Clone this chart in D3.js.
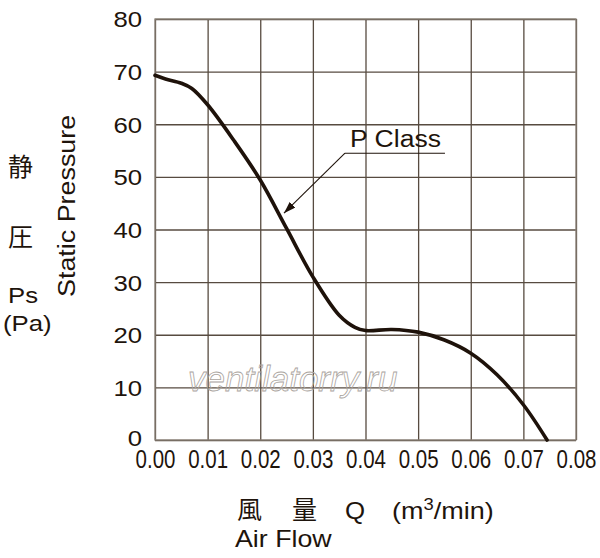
<!DOCTYPE html>
<html>
<head>
<meta charset="utf-8">
<script src="https://cdn.jsdelivr.net/npm/d3@7"></script>
<style>
  body { margin: 0; background: #fff; }
  svg { display: block; }
  text { font-family: "Liberation Sans", Arial, Helvetica, sans-serif; fill: #1e140c; }
  .cjk { font-family: "Noto Sans CJK JP", "Noto Sans CJK SC", sans-serif; }
</style>
</head>
<body>
<div id="chart"></div>
<script>
// air flow (m3/min) and static pressure (Pa)
const flow     = [0, 0.002, 0.005, 0.007, 0.01, 0.015, 0.02, 0.025, 0.03, 0.035, 0.038, 0.04, 0.045, 0.05, 0.055, 0.06, 0.065, 0.07, 0.0745];
const pressure = [69.3, 68.6, 67.8, 66.8, 63.7, 56.9, 49.4, 40.2, 31, 23.7, 21.4, 20.8, 21.0, 20.5, 19.0, 16.5, 12.4, 6.7, 0];

const xTicks = [0, 0.01, 0.02, 0.03, 0.04, 0.05, 0.06, 0.07, 0.08];
const yTicks = [0, 10, 20, 30, 40, 50, 60, 70, 80];

// "P Class" callout: label corner and arrow tip, in data units
const calloutFrom = [0.0361, 54.5];
const calloutTo   = [0.0245, 43.1];
const calloutEnd  = 0.0551;

const W = 600, H = 558;
const margin = { left: 155, top: 19, right: 24, bottom: 118 };
const w = W - margin.left - margin.right;
const h = H - margin.top - margin.bottom;

const svg = d3.select("#chart").append("svg").attr("width", W).attr("height", H);
const g = svg.append("g").attr("transform", `translate(${margin.left},${margin.top})`);

const x = d3.scaleLinear().domain([0, 0.08]).range([0, w]);
const y = d3.scaleLinear().domain([0, 80]).range([h, 0]);

//grid + tick labels
const gx = g.append("g").attr("transform", `translate(0,${h})`)
  .call(d3.axisBottom(x).tickValues(xTicks).tickFormat(d3.format(".2f")).tickSize(-h).tickSizeOuter(0));
gx.select(".domain").remove();
gx.selectAll("line").attr("stroke", "#574b40").attr("stroke-width", 1.3);
gx.selectAll("text").attr("y", 28).attr("dy", null)
  .attr("transform", "scale(0.82,1)").style("font-size", "25px").attr("fill", "#1e140c");

const gy = g.append("g")
  .call(d3.axisLeft(y).tickValues(yTicks).tickSize(-w).tickSizeOuter(0));
gy.select(".domain").remove();
gy.selectAll("line").attr("stroke", "#574b40").attr("stroke-width", 1.3);
gy.selectAll("text").attr("x", -11.1).attr("dy", d => d === 0 ? "0.24em" : "0.36em")
  .attr("transform", "scale(1.17,1)").style("font-size", "22px").attr("fill", "#1e140c");

g.append("rect").attr("width", w).attr("height", h)
  .attr("fill", "none").attr("stroke", "#8a8279").attr("stroke-width", 1.3);

//watermark
g.append("text").attr("x", 33).attr("y", 372)
  .style("font-size", "35px").style("font-style", "italic")
  .style("fill", "none").attr("stroke", "#aaa49e").attr("stroke-width", 0.8)
  .text("ventilatorry.ru");

//curve
const pts = flow.map((q, i) => [q, pressure[i]]);
const line = d3.line().x(d => x(d[0])).y(d => y(d[1])).curve(d3.curveCatmullRom.alpha(0.5));
g.append("path").datum(pts).attr("d", line)
  .attr("fill", "none").attr("stroke", "#1e120a").attr("stroke-width", 3.6)
  .attr("stroke-linecap", "round");

//callout
svg.append("defs").append("marker").attr("id", "arr")
  .attr("viewBox", "0 0 12 8").attr("refX", 12).attr("refY", 4)
  .attr("markerWidth", 12).attr("markerHeight", 8)
  .attr("markerUnits", "userSpaceOnUse").attr("orient", "auto")
  .append("path").attr("d", "M0,0 L12,4 L0,8 Z").attr("fill", "#1e120a");

g.append("line")
  .attr("x1", x(calloutFrom[0])).attr("y1", y(calloutFrom[1]))
  .attr("x2", x(calloutTo[0])).attr("y2", y(calloutTo[1]))
  .attr("stroke", "#1e120a").attr("stroke-width", 1.1).attr("marker-end", "url(#arr)");
g.append("line")
  .attr("x1", x(calloutFrom[0])).attr("y1", y(calloutFrom[1]))
  .attr("x2", x(calloutEnd)).attr("y2", y(calloutFrom[1]))
  .attr("stroke", "#1e120a").attr("stroke-width", 1.1);

function label(sel, txt, px, py, size, sx, cls) {
  return sel.append("text").attr("class", cls || null)
    .attr("transform", `translate(${px},${py}) scale(${sx},1)`)
    .style("font-size", size + "px").text(txt);
}

label(svg, "P Class", x(calloutFrom[0]) + margin.left + 5, 147, 23.5, 1.13);

//y axis titles
label(svg, "静", 8, 176, 25, 1, "cjk");
label(svg, "圧", 8, 246, 25, 1, "cjk");
label(svg, "Ps", 8, 303, 23, 1.12);
label(svg, "(Pa)", 3, 331, 23, 1.12);
svg.append("text")
  .attr("transform", "translate(75,297) rotate(-90) scale(1.12,1)")
  .style("font-size", "24px").text("Static Pressure");

//x axis titles
label(svg, "風", 237, 519, 25, 1, "cjk");
label(svg, "量", 292, 519, 25, 1, "cjk");
label(svg, "Q", 345, 519, 23.5, 1.1);
const unit = label(svg, "(m", 392, 519, 23.5, 1.15);
unit.append("tspan").attr("dy", -9).style("font-size", "16px").text("3");
unit.append("tspan").attr("dy", 9).text("/min)");
label(svg, "Air Flow", 235, 547, 23.5, 1.14);
</script>
</body>
</html>
